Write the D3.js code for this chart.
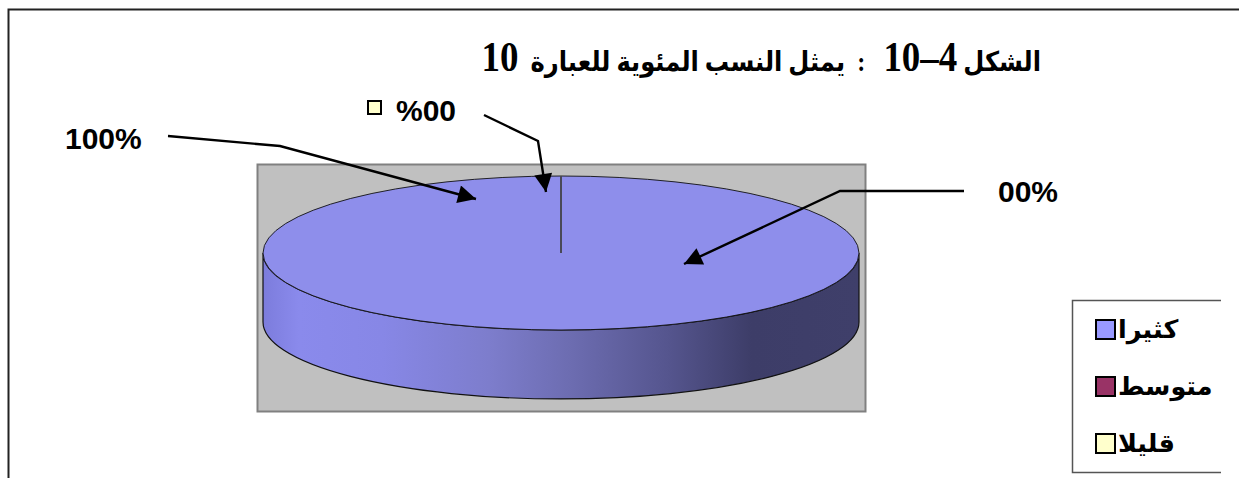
<!DOCTYPE html>
<html>
<head>
<meta charset="utf-8">
<script src="https://cdn.jsdelivr.net/npm/d3@7"></script>
<style>
    html, body { margin: 0; padding: 0; background: #fff; overflow: hidden; }
    text { fill: #000; font-weight: bold; }
</style>
</head>
<body>
<div id="chart"></div>
<script>
const width = 1239;
const height = 478;

// title pieces, in reading order; the numbers get their own tspan
const titleParts = ["الشكل ", "4–10", "   :  يمثل النسب المئوية للعبارة  ", "10"];
const categories = ["كثيرا", "متوسط", "قليلا"];
const values = [100, 0, 0];
const sliceLabels = ["100%", "00%", "%00"];
const colors = ["#9999ff", "#993366", "#ffffcc"];

const svg = d3.select("#chart").append("svg")
    .attr("width", width)
    .attr("height", height)
    .style("display", "block");

// outer frame, open on the right and at the bottom
svg.append("path")
    .attr("d", `M8.5,${height} V9.5 H${width}`)
    .attr("fill", "none")
    .attr("stroke", "#222")
    .attr("stroke-width", 2);

// title
svg.append("text")
    .attr("transform", "translate(1041,71) scale(0.88,1)")
    .attr("direction", "rtl")
    .attr("text-anchor", "start")
    .style("white-space", "pre")
    .style("font-family", "'Liberation Serif', 'DejaVu Sans', serif")
    .style("font-size", "27.5px")
    .selectAll("tspan")
    .data(titleParts)
    .enter().append("tspan")
    .style("font-size", (d, i) => i % 2 ? "42px" : null)
    .text(d => d);

// plot area
svg.append("rect")
    .attr("x", 257.5).attr("y", 164.5)
    .attr("width", 608).attr("height", 247)
    .attr("fill", "#c0c0c0")
    .attr("stroke", "#808080")
    .attr("stroke-width", 2);

// pie
const cx = 561, cy = 253, rx = 298, ry = 77, depth = 69;

const defs = svg.append("defs");
const wallGrad = defs.append("linearGradient")
    .attr("id", "wall")
    .attr("gradientUnits", "userSpaceOnUse")
    .attr("x1", cx - rx).attr("x2", cx + rx).attr("y1", 0).attr("y2", 0);
[[0, "#7c7cdc"], [0.06, "#8a8aec"], [0.2, "#8787e6"], [0.38, "#7d7dcc"], [0.52, "#6c6cb0"],
 [0.68, "#55558e"], [0.82, "#3d3d68"], [1, "#3f3f6a"]].forEach(s => {
    wallGrad.append("stop").attr("offset", s[0]).attr("stop-color", s[1]);
});

// side wall
svg.append("path")
    .attr("d", `M${cx - rx},${cy} A${rx},${ry} 0 0 0 ${cx + rx},${cy} V${cy + depth} A${rx},${ry} 0 0 1 ${cx - rx},${cy + depth} Z`)
    .attr("fill", "url(#wall)")
    .attr("stroke", "#111")
    .attr("stroke-width", 1.2);

const pie = d3.pie().sort(null).value(d => d);
const slices = pie(values);
const arc = d3.arc().innerRadius(0).outerRadius(rx);

const top3d = svg.append("g")
    .attr("transform", `translate(${cx},${cy}) scale(1,${ry / rx})`);

top3d.selectAll("path.slice")
    .data(slices)
    .enter().append("path")
    .attr("class", "slice")
    .attr("d", arc)
    .attr("fill", "#8e8eeb")
    .attr("stroke", "#111")
    .attr("stroke-width", 0.9)
    .attr("vector-effect", "non-scaling-stroke");

// the two empty slices collapse to one radius at the top of the pie
top3d.selectAll("line.radius")
    .data(slices.filter(d => d.value === 0))
    .enter().append("line")
    .attr("class", "radius")
    .attr("x1", 0).attr("y1", 0)
    .attr("x2", d => d3.pointRadial(d.startAngle, rx)[0])
    .attr("y2", d => d3.pointRadial(d.startAngle, rx)[1])
    .attr("stroke", "#667")
    .attr("stroke-width", 0.8)
    .attr("vector-effect", "non-scaling-stroke");

// leader arrows
defs.append("marker")
    .attr("id", "head")
    .attr("viewBox", "0 0 10 10")
    .attr("refX", 10).attr("refY", 5)
    .attr("markerWidth", 20).attr("markerHeight", 18)
    .attr("markerUnits", "userSpaceOnUse")
    .attr("orient", "auto")
    .append("path")
    .attr("d", "M0,0 L10,5 L0,10 Z")
    .attr("fill", "#000");

const leaders = [
    [[168, 136], [280, 146], [476, 199]],
    [[964, 191], [840, 191], [684, 264]],
    [[484, 115], [538, 141], [546, 192]]
];
const line = d3.line();
svg.selectAll("path.leader")
    .data(leaders)
    .enter().append("path")
    .attr("class", "leader")
    .attr("d", line)
    .attr("fill", "none")
    .attr("stroke", "#000")
    .attr("stroke-width", 2.4)
    .attr("marker-end", "url(#head)");

// slice labels
const labelPos = [[65, 149], [998, 202], [396, 121]];
svg.selectAll("text.label")
    .data(sliceLabels)
    .enter().append("text")
    .attr("class", "label")
    .attr("x", (d, i) => labelPos[i][0])
    .attr("y", (d, i) => labelPos[i][1])
    .attr("direction", "ltr")
    .style("font-family", "'Liberation Sans', Arial, sans-serif")
    .style("font-size", "30px")
    .text(d => d);

// legend key next to the third label
svg.append("rect")
    .attr("x", 368).attr("y", 101)
    .attr("width", 13).attr("height", 13)
    .attr("fill", colors[2])
    .attr("stroke", "#000")
    .attr("stroke-width", 2);

// legend box, open on the right
svg.append("path")
    .attr("d", "M1221,300.5 H1072.5 V472.5 H1221")
    .attr("fill", "#fff")
    .attr("stroke", "#555")
    .attr("stroke-width", 1.5);

const legendY = d3.scalePoint()
    .domain(categories)
    .range([329, 443]);

const legend = svg.selectAll("g.legend")
    .data(categories)
    .enter().append("g")
    .attr("class", "legend")
    .attr("transform", d => `translate(0,${legendY(d)})`);

legend.append("rect")
    .attr("x", 1096).attr("y", -9)
    .attr("width", 19).attr("height", 19)
    .attr("fill", (d, i) => colors[i])
    .attr("stroke", "#000")
    .attr("stroke-width", 2);

legend.append("text")
    .attr("x", 1118)
    .attr("y", 9)
    .style("font-family", "'DejaVu Sans', 'Liberation Sans', sans-serif")
    .style("font-size", "25.5px")
    .text(d => d);
</script>
</body>
</html>
